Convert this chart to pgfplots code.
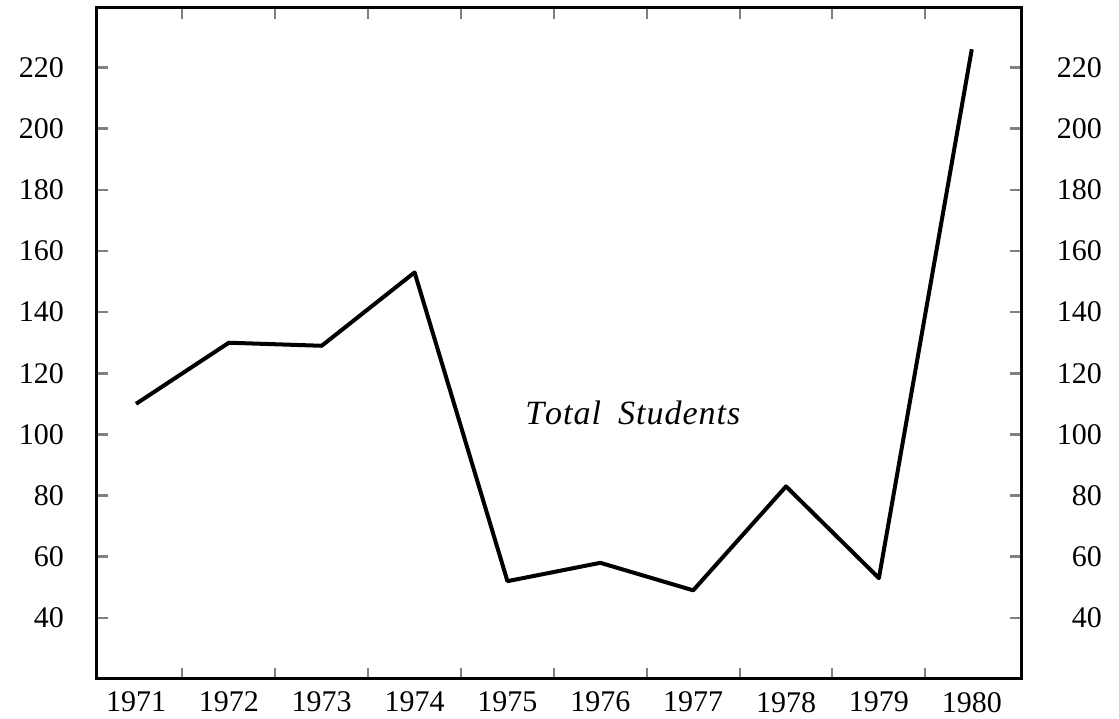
\documentclass[border=0pt]{standalone}
\usepackage{fontspec}
\setmainfont{Liberation Serif}
\usepackage{pgfplots}
\pgfplotsset{compat=1.18}
\pgfplotstableread{
year value
1971 110
1972 130
1973 129
1974 153
1975 52
1976 58
1977 49
1978 83
1979 53
1980 226
}\students
\begin{document}
\begin{tikzpicture}
\pgfplotsset{
  common/.style={
    scale only axis, width=462pt, height=335.5pt,
    xmin=1970.58, xmax=1980.53, ymin=20, ymax=239.5,
    ytick={40,60,...,220},
    /pgf/number format/assume math mode=true,
    tick label style={font=\fontsize{15}{17}\selectfont},
  }
}
\begin{axis}[
  common,
  name=main,
  axis line style={line width=1.5pt},
  xtick={1971,1972,1973,1974,1975,1976,1977,1978,1979,1980},
  xticklabels={1971,1972,1973,1974,1975,1976,1977,1978,1979,1980},
  major x tick style={draw=none},
  minor xtick={1971.5,1972.5,1973.5,1974.5,1975.5,1976.5,1977.5,1978.5,1979.5},
  minor tick length=5.5pt,
  minor x tick style={line width=1pt},
  major y tick style={line width=1.3pt},
  major tick length=5.5pt,
  xtick pos=both, ytick pos=both,
  yticklabel pos=left,
  xticklabel style={yshift=-3pt},
  yticklabel style={anchor=east, xshift=-13pt},
]
\addplot[black, line width=2pt, line join=round] table[x=year, y=value] {\students};
\node[font=\fontsize{17}{19}\selectfont\itshape, anchor=center] at (axis cs:1976.35,107) {T\kern0.5pt o\kern0.5pt t\kern0.5pt a\kern0.5pt l\enspace S\kern0.5pt t\kern0.5pt u\kern0.5pt d\kern0.5pt e\kern0.5pt n\kern0.5pt t\kern0.5pt s};
\end{axis}
\begin{axis}[
  common,
  axis y line*=right,
  hide x axis,
  axis line style={draw=none},
  ytick style={draw=none},
  yticklabel style={anchor=east, xshift=44pt},
]
\addplot[draw=none] coordinates {(1971,110)};
\end{axis}
\path ([xshift=-48.5pt,yshift=-18.5pt]main.south west) rectangle ([xshift=49pt,yshift=4pt]main.north east);
\end{tikzpicture}
\end{document}
